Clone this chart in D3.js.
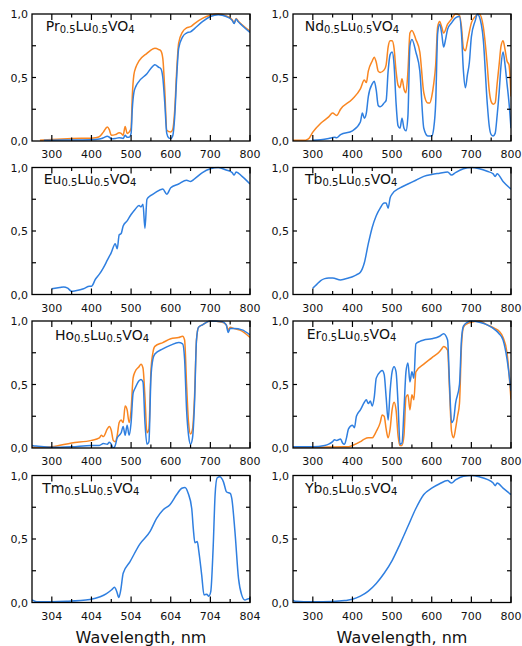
<!DOCTYPE html>
<html>
<head>
<meta charset="utf-8">
<script src="https://cdn.jsdelivr.net/npm/d3@7/dist/d3.min.js"></script>
<style>
  html, body { margin: 0; padding: 0; background: #fff; }
  svg { display: block; }
</style>
</head>
<body>
<svg id="chart" width="522" height="646"></svg>
<script>
// ---- Reflectance spectra of Ln0.5Lu0.5VO4 (normalised), [wavelength nm, R] ----
const prBlue = [[280,0.005],[300,0.006],[350,0.008],[400,0.01],[420,0.015],[430,0.025],[440,0.037],[445,0.03],[450,0.018],[460,0.02],[470,0.026],[480,0.02],[485,0.045],[490,0.03],[495,0.03],[500,0.06],[503,0.25],[507,0.38],[512,0.43],[520,0.47],[540,0.53],[555,0.59],[560,0.6],[570,0.58],[575,0.57],[580,0.5],[585,0.3],[590,0.06],[595,0.025],[600,0.02],[605,0.04],[610,0.19],[615,0.5],[620,0.73],[630,0.82],[640,0.85],[650,0.86],[660,0.885],[680,0.94],[700,0.98],[720,0.995],[740,0.98],[755,0.95],[760,0.925],[765,0.96],[770,0.94],[780,0.91],[800,0.855]];
const prOrange = [[270,0.005],[300,0.012],[350,0.02],[400,0.022],[410,0.025],[420,0.035],[430,0.07],[440,0.11],[445,0.09],[450,0.045],[460,0.05],[470,0.065],[475,0.06],[480,0.045],[485,0.115],[490,0.06],[495,0.07],[500,0.1],[503,0.35],[507,0.52],[512,0.58],[520,0.63],[540,0.69],[555,0.725],[560,0.73],[570,0.72],[575,0.71],[580,0.65],[585,0.4],[590,0.085],[600,0.07],[605,0.09],[610,0.24],[615,0.55],[620,0.77],[630,0.86],[640,0.89],[650,0.9],[660,0.925],[680,0.965],[700,0.99],[720,1.0],[740,0.985],[755,0.955],[760,0.93],[765,0.965],[770,0.945],[780,0.915],[800,0.865]];

const ndBlue = [[300,0.005],[320,0.01],[340,0.02],[355,0.03],[360,0.025],[370,0.05],[400,0.08],[420,0.15],[425,0.22],[430,0.18],[435,0.22],[440,0.35],[450,0.45],[455,0.47],[460,0.4],[465,0.28],[470,0.27],[475,0.28],[480,0.3],[485,0.32],[490,0.55],[495,0.68],[500,0.7],[505,0.6],[510,0.3],[515,0.12],[520,0.1],[525,0.18],[530,0.1],[535,0.08],[540,0.2],[545,0.75],[550,0.8],[560,0.7],[570,0.55],[580,0.1],[590,0.04],[600,0.04],[605,0.1],[610,0.3],[615,0.85],[620,0.92],[625,0.85],[630,0.74],[635,0.8],[640,0.88],[650,0.93],[660,0.97],[670,0.98],[675,0.85],[680,0.55],[685,0.42],[690,0.52],[695,0.62],[700,0.82],[710,0.95],[715,1.0],[720,0.98],[730,0.8],[740,0.3],[745,0.12],[750,0.05],[755,0.04],[760,0.06],[765,0.2],[770,0.38],[775,0.6],[780,0.7],[785,0.6],[790,0.45],[795,0.3],[800,0.1]];
const ndOrange = [[250,0.005],[280,0.005],[285,0.01],[290,0.02],[300,0.07],[320,0.14],[340,0.19],[350,0.22],[360,0.2],[370,0.25],[400,0.33],[420,0.41],[430,0.48],[435,0.46],[440,0.55],[450,0.63],[455,0.66],[460,0.62],[465,0.55],[470,0.54],[480,0.56],[485,0.6],[490,0.74],[495,0.79],[500,0.79],[505,0.73],[510,0.55],[515,0.44],[520,0.42],[525,0.49],[530,0.41],[535,0.38],[540,0.55],[545,0.85],[550,0.87],[560,0.8],[570,0.7],[580,0.38],[590,0.3],[595,0.3],[600,0.35],[605,0.45],[610,0.6],[615,0.9],[620,0.94],[625,0.9],[630,0.85],[640,0.92],[650,0.96],[660,1.0],[670,0.99],[675,0.9],[680,0.73],[685,0.71],[690,0.78],[700,0.93],[710,0.98],[720,1.0],[730,0.9],[740,0.6],[745,0.4],[750,0.31],[755,0.29],[760,0.3],[765,0.45],[770,0.6],[775,0.75],[780,0.79],[785,0.72],[790,0.63],[795,0.6],[800,0.35]];

const euBlue = [[300,0.045],[320,0.055],[330,0.06],[340,0.05],[350,0.025],[360,0.03],[380,0.045],[395,0.065],[400,0.065],[410,0.12],[420,0.16],[430,0.21],[440,0.27],[450,0.33],[460,0.4],[465,0.36],[470,0.47],[475,0.48],[480,0.54],[490,0.58],[500,0.63],[510,0.67],[520,0.7],[525,0.69],[530,0.71],[535,0.52],[540,0.75],[550,0.78],[560,0.8],[580,0.83],[590,0.79],[600,0.84],[620,0.87],[640,0.9],[650,0.89],[660,0.91],[680,0.96],[700,0.99],[720,1.0],[740,0.98],[755,0.96],[760,0.94],[765,0.965],[780,0.93],[800,0.87]];

const tbBlue = [[300,0.05],[310,0.08],[320,0.11],[330,0.125],[340,0.13],[350,0.13],[370,0.115],[390,0.13],[400,0.14],[410,0.155],[420,0.175],[430,0.25],[440,0.4],[450,0.53],[460,0.62],[470,0.68],[480,0.72],[485,0.72],[490,0.68],[495,0.76],[500,0.79],[520,0.84],[540,0.87],[560,0.9],[580,0.93],[600,0.945],[620,0.955],[640,0.965],[650,0.94],[660,0.96],[680,0.99],[700,1.0],[720,0.99],[740,0.97],[755,0.95],[760,0.93],[765,0.95],[780,0.89],[800,0.83]];

const hoBlue = [[250,0.02],[260,0.015],[280,0.01],[300,0.005],[350,0.01],[400,0.02],[420,0.02],[430,0.035],[440,0.03],[445,0.045],[450,0.03],[455,0.0],[460,0.02],[465,0.08],[470,0.1],[475,0.12],[480,0.17],[485,0.1],[490,0.18],[495,0.1],[500,0.2],[505,0.43],[510,0.47],[520,0.53],[525,0.54],[530,0.52],[535,0.2],[540,0.03],[545,0.05],[550,0.55],[555,0.7],[560,0.74],[580,0.78],[600,0.81],[620,0.83],[630,0.82],[635,0.7],[640,0.3],[645,0.1],[650,0.03],[655,0.08],[660,0.35],[665,0.85],[670,0.95],[680,0.97],[700,1.0],[730,0.995],[740,0.97],[745,0.91],[750,0.94],[760,0.94],[780,0.93],[800,0.89]];
const hoOrange = [[250,0.005],[300,0.01],[350,0.04],[400,0.06],[420,0.08],[425,0.1],[430,0.09],[440,0.15],[445,0.17],[450,0.14],[455,0.06],[460,0.05],[465,0.1],[470,0.2],[475,0.22],[480,0.2],[485,0.33],[490,0.3],[495,0.2],[500,0.3],[505,0.55],[510,0.6],[520,0.64],[525,0.66],[530,0.63],[535,0.4],[540,0.12],[545,0.15],[550,0.6],[555,0.75],[560,0.8],[580,0.83],[600,0.86],[620,0.87],[630,0.88],[635,0.85],[640,0.5],[645,0.2],[650,0.11],[655,0.15],[660,0.4],[665,0.85],[670,0.95],[680,0.97],[700,1.0],[730,0.99],[740,0.97],[745,0.93],[750,0.95],[760,0.94],[780,0.92],[800,0.87]];

const erBlue = [[250,0.01],[300,0.01],[330,0.02],[340,0.03],[350,0.05],[355,0.065],[360,0.06],[370,0.07],[375,0.04],[380,0.03],[385,0.08],[390,0.15],[400,0.18],[405,0.16],[410,0.25],[420,0.3],[430,0.36],[435,0.38],[440,0.35],[445,0.37],[450,0.33],[455,0.4],[460,0.55],[470,0.6],[475,0.61],[480,0.58],[485,0.4],[490,0.22],[495,0.45],[500,0.6],[505,0.64],[510,0.6],[515,0.35],[520,0.03],[525,0.04],[530,0.3],[535,0.6],[540,0.67],[545,0.52],[550,0.6],[555,0.55],[560,0.82],[570,0.84],[580,0.85],[600,0.86],[620,0.88],[630,0.9],[640,0.85],[645,0.5],[650,0.2],[655,0.22],[660,0.35],[670,0.5],[675,0.85],[680,0.96],[690,0.99],[700,1.0],[720,0.99],[740,0.97],[760,0.93],[770,0.9],[780,0.85],[790,0.7],[800,0.45]];
const erOrange = [[250,0.005],[300,0.005],[380,0.01],[390,0.01],[400,0.02],[420,0.05],[430,0.07],[440,0.08],[450,0.08],[455,0.1],[460,0.13],[470,0.2],[475,0.26],[480,0.25],[485,0.15],[490,0.08],[495,0.15],[500,0.3],[505,0.36],[510,0.3],[515,0.1],[520,0.02],[525,0.02],[530,0.1],[535,0.4],[540,0.42],[545,0.3],[550,0.42],[555,0.38],[560,0.6],[580,0.66],[600,0.71],[620,0.76],[625,0.78],[630,0.8],[640,0.77],[645,0.45],[650,0.13],[655,0.08],[660,0.15],[665,0.25],[670,0.35],[675,0.8],[680,0.95],[690,0.98],[700,0.99],[720,1.0],[740,0.97],[760,0.94],[770,0.92],[780,0.87],[790,0.75],[800,0.38]];

const tmBlue = [[254,0.02],[266,0.005],[341,0.01],[400,0.024],[426,0.045],[442,0.07],[455,0.1],[462,0.12],[468,0.085],[473,0.04],[478,0.1],[484,0.23],[501,0.32],[526,0.46],[552,0.56],[568,0.66],[585,0.73],[602,0.77],[619,0.85],[632,0.9],[640,0.905],[648,0.86],[657,0.74],[661,0.58],[665,0.47],[671,0.48],[675,0.4],[682,0.22],[688,0.06],[695,0.065],[700,0.05],[705,0.085],[711,0.43],[716,0.85],[721,0.98],[728,0.99],[737,0.95],[745,0.87],[754,0.86],[758,0.82],[766,0.56],[775,0.19],[783,0.06],[791,0.02],[800,0.03],[804,0.03]];

const ybBlue = [[250,0.02],[255,0.01],[300,0.005],[350,0.008],[380,0.015],[400,0.025],[420,0.05],[440,0.09],[460,0.15],[480,0.23],[500,0.33],[520,0.46],[540,0.6],[560,0.74],[580,0.85],[600,0.9],[620,0.935],[640,0.96],[650,0.94],[660,0.965],[680,0.995],[700,1.0],[720,0.99],[740,0.97],[755,0.94],[760,0.92],[765,0.94],[780,0.9],[800,0.85]];

// ---- labels / axes ----
const elements = ["Pr","Nd","Eu","Tb","Ho","Er","Tm","Yb"];
const xTicks = [300,400,500,600,700,800];
const tmXTicks = [304,404,504,604,704,804];
const yTicks = [0, 0.5, 1];
const yTickLabels = ["0,0","0,5","1,0"];
const axisTitle = "Wavelength, nm";

const blueColor = "#2f7fe0";
const orangeColor = "#f98621";

// series per panel, drawn in order (orange first so blue sits above where both exist)
const panelSeries = [
  [{d: prOrange, c: orangeColor}, {d: prBlue, c: blueColor}],
  [{d: ndOrange, c: orangeColor}, {d: ndBlue, c: blueColor}],
  [{d: euBlue, c: blueColor}],
  [{d: tbBlue, c: blueColor}],
  [{d: hoOrange, c: orangeColor}, {d: hoBlue, c: blueColor}],
  [{d: erOrange, c: orangeColor}, {d: erBlue, c: blueColor}],
  [{d: tmBlue, c: blueColor}],
  [{d: ybBlue, c: blueColor}]
];

// ---- layout ----
const colX = [32, 293];
const rowY = [14, 167.5, 321, 475.5];
const pw = 218, ph = 127;
const titleOffset = [[13.7,17],[11.7,17],[11.7,16.8],[12,16.8],[23,19],[13.7,18],[10.3,17.6],[12,17.6]];

const svg = d3.select("#chart");
const defs = svg.append("defs");

elements.forEach((el, i) => {
  const col = i % 2, row = Math.floor(i / 2);
  const x0 = colX[col], y0 = rowY[row];
  const isTm = el === "Tm";
  const ticks = isTm ? tmXTicks : xTicks;
  const domain = isTm ? [254, 804] : [250, 800];

  const x = d3.scaleLinear().domain(domain).range([0, pw]);
  const y = d3.scaleLinear().domain([0, 1]).range([ph, 0]);

  const g = svg.append("g").attr("transform", `translate(${x0},${y0})`);

  defs.append("clipPath").attr("id", "clip" + i)
    .append("rect").attr("x", 0).attr("y", -1).attr("width", pw).attr("height", ph + 1);

  // curves
  const line = d3.line().x(d => x(d[0])).y(d => y(d[1])).curve(d3.curveMonotoneX);
  const cg = g.append("g").attr("clip-path", `url(#clip${i})`);
  panelSeries[i].forEach(s => {
    cg.append("path").datum(s.d)
      .attr("fill", "none").attr("stroke", s.c)
      .attr("stroke-width", 1.5).attr("stroke-linejoin", "round")
      .attr("d", line);
  });

  // ticks: major every 100, minor halfway, inward on bottom and top
  const minor = ticks.map(t => t - 50).filter(t => t > domain[0]);
  const tickG = g.append("g").attr("stroke", "#000").attr("stroke-width", 1.2);
  ticks.forEach(t => {
    tickG.append("line").attr("x1", x(t)).attr("x2", x(t)).attr("y1", ph).attr("y2", ph - 6);
    tickG.append("line").attr("x1", x(t)).attr("x2", x(t)).attr("y1", 0).attr("y2", 6);
  });
  minor.forEach(t => {
    tickG.append("line").attr("x1", x(t)).attr("x2", x(t)).attr("y1", ph).attr("y2", ph - 3.5);
    tickG.append("line").attr("x1", x(t)).attr("x2", x(t)).attr("y1", 0).attr("y2", 3.5);
  });
  [0.25, 0.5, 0.75].forEach(v => {
    tickG.append("line").attr("x1", 0).attr("x2", 4).attr("y1", y(v)).attr("y2", y(v));
    tickG.append("line").attr("x1", pw).attr("x2", pw - 4).attr("y1", y(v)).attr("y2", y(v));
  });

  // frame
  g.append("rect").attr("x", 0).attr("y", 0).attr("width", pw).attr("height", ph)
    .attr("fill", "none").attr("stroke", "#000").attr("stroke-width", 1.3);

  // x tick labels
  g.append("g").selectAll("text").data(ticks).join("text")
    .attr("x", d => x(d)).attr("y", ph + 17)
    .attr("text-anchor", "middle")
    .attr("font-family", "DejaVu Sans").attr("font-size", 11).attr("fill", "#111")
    .text(d => d);

  // y tick labels
  g.append("g").selectAll("text").data(yTicks).join("text")
    .attr("x", -4).attr("y", d => y(d) + 4)
    .attr("text-anchor", "end")
    .attr("font-family", "DejaVu Sans").attr("font-size", 11).attr("fill", "#111")
    .text((d, k) => yTickLabels[k]);

  // title  Ln0.5Lu0.5VO4
  const t = g.append("text")
    .attr("x", titleOffset[i][0]).attr("y", titleOffset[i][1])
    .attr("font-family", "DejaVu Sans").attr("font-size", 14).attr("fill", "#111");
  t.append("tspan").text(el);
  t.append("tspan").attr("font-size", 10).attr("dy", 2).text("0.5");
  t.append("tspan").attr("dy", -2).text("Lu");
  t.append("tspan").attr("font-size", 10).attr("dy", 2).text("0.5");
  t.append("tspan").attr("dy", -2).text("VO");
  t.append("tspan").attr("font-size", 10).attr("dy", 2).text("4");

  // axis title under bottom row
  if (row === 3) {
    svg.append("text")
      .attr("x", x0 + pw / 2).attr("y", 643)
      .attr("text-anchor", "middle")
      .attr("font-family", "DejaVu Sans").attr("font-size", 16).attr("fill", "#111")
      .text(axisTitle);
  }
});
</script>
</body>
</html>
